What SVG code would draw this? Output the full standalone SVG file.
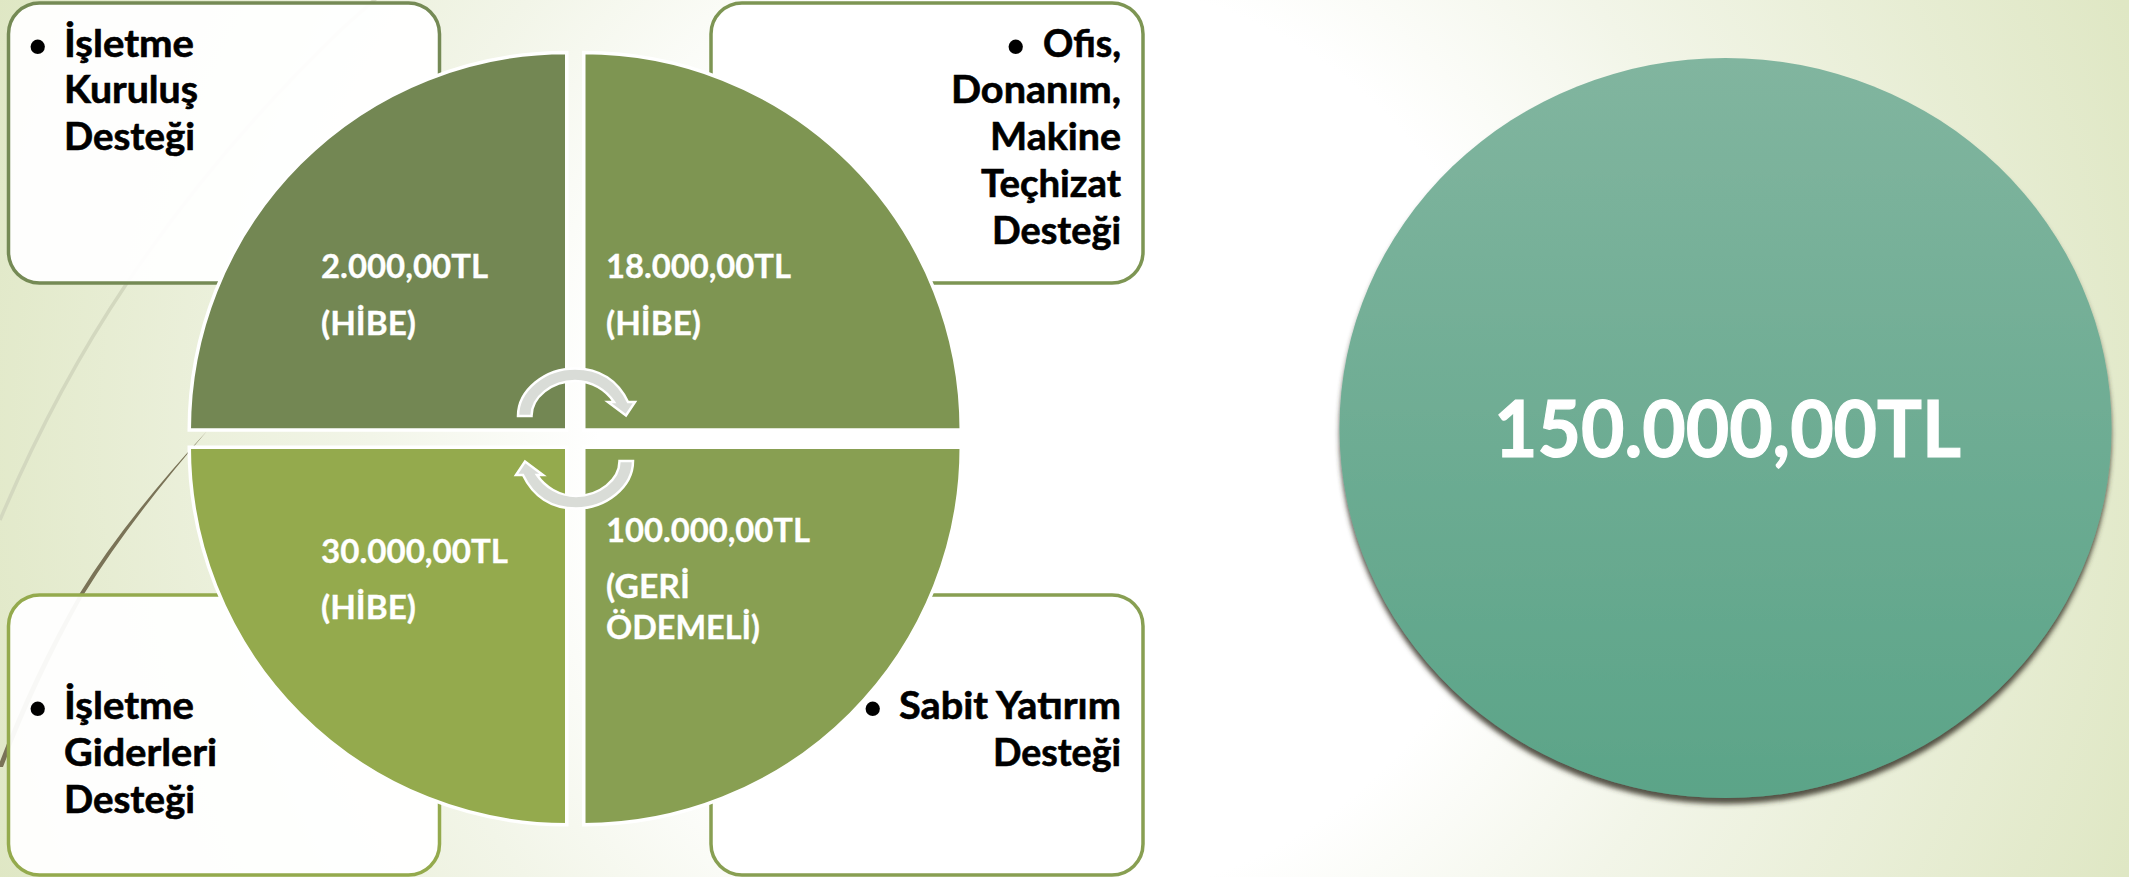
<svg xmlns="http://www.w3.org/2000/svg" width="2129" height="877" viewBox="0 0 2129 877">
<style>
.b{font-family:Lato,"Liberation Sans",sans-serif;font-weight:700;font-size:38px;fill:#000;stroke:#000;stroke-width:.6}
.u{font-family:"Liberation Sans",sans-serif;font-weight:700;font-size:50px;fill:#000}
.w{font-family:Lato,"Liberation Sans",sans-serif;font-weight:700;font-size:32px;fill:#fff;stroke:#fff;stroke-width:.3}
.box{fill:#fff;fill-opacity:.95;stroke-width:3.5}
.sec{stroke:#fff;stroke-width:3.5}
.arr{fill:#d9dcd7;stroke:#fff;stroke-width:2.5;stroke-linejoin:miter}
</style>
<defs>
<radialGradient id="bg" gradientUnits="userSpaceOnUse" cx="1060" cy="440" r="1150">
<stop offset="0" stop-color="#fff"/><stop offset=".4" stop-color="#fff"/><stop offset=".6" stop-color="#f2f5e8"/><stop offset="1" stop-color="#dfe7c4"/>
</radialGradient>
<linearGradient id="disc" x1="0" y1="0" x2="0" y2="1"><stop offset="0" stop-color="#81b59f"/><stop offset="1" stop-color="#5ba488"/></linearGradient>
<filter id="sh" x="-5%" y="-5%" width="110%" height="112%"><feDropShadow dx="0" dy="6" stdDeviation="2.5" flood-color="#3a352c" flood-opacity=".85"/></filter>
</defs>
<g id="background">
<rect width="2129" height="877" fill="url(#bg)"/>
<path d="M0,520Q55,390 127,283Q220,145 344,27L380,-5" fill="none" stroke="#d3d8bf" stroke-width="3.5"/>
<path d="M207,431Q125,520 80,593Q30,680 -2,767L3,767Q35,682 84,594Q130,520 207,431Z" fill="#7a7357"/>
</g>
<g id="box-kurulus">
<rect class="box" x="8.5" y="3" width="431" height="280" rx="31" stroke="#758a55"/>
<text class="u" x="29" y="63">•</text>
<text class="b" x="64" y="57" textLength="130" lengthAdjust="spacingAndGlyphs">İşletme</text>
<text class="b" x="64" y="103" textLength="134" lengthAdjust="spacingAndGlyphs">Kuruluş</text>
<text class="b" x="64" y="150" textLength="131" lengthAdjust="spacingAndGlyphs">Desteği</text>
</g>
<g id="box-ofis">
<rect class="box" x="711" y="3" width="432" height="280" rx="31" stroke="#7d9553"/>
<text class="u" x="1007" y="63">•</text>
<text class="b" x="1043" y="57" textLength="78" lengthAdjust="spacingAndGlyphs">Ofis,</text>
<text class="b" x="951" y="103" textLength="170" lengthAdjust="spacingAndGlyphs">Donanım,</text>
<text class="b" x="990" y="150" textLength="131" lengthAdjust="spacingAndGlyphs">Makine</text>
<text class="b" x="981" y="197" textLength="140" lengthAdjust="spacingAndGlyphs">Teçhizat</text>
<text class="b" x="992" y="244" textLength="129" lengthAdjust="spacingAndGlyphs">Desteği</text>
</g>
<g id="box-giderler">
<rect class="box" x="8.5" y="595" width="431" height="280" rx="31" stroke="#94aa4d"/>
<text class="u" x="29" y="725">•</text>
<text class="b" x="64" y="719" textLength="130" lengthAdjust="spacingAndGlyphs">İşletme</text>
<text class="b" x="64" y="766" textLength="153" lengthAdjust="spacingAndGlyphs">Giderleri</text>
<text class="b" x="64" y="813" textLength="131" lengthAdjust="spacingAndGlyphs">Desteği</text>
</g>
<g id="box-sabit">
<rect class="box" x="711" y="595" width="432" height="280" rx="31" stroke="#889f52"/>
<text class="u" x="864" y="725">•</text>
<text class="b" x="899" y="719" textLength="222" lengthAdjust="spacingAndGlyphs">Sabit Yatırım</text>
<text class="b" x="993" y="766" textLength="128" lengthAdjust="spacingAndGlyphs">Desteği</text>
</g>
<g id="sector-kurulus">
<path class="sec" d="M566.75,430H189.25A377.5,377.5 0 0 1 566.75,52.5Z" fill="#738753"/>
<text class="w" x="321" y="278" textLength="167" lengthAdjust="spacingAndGlyphs">2.000,00TL</text>
<text class="w" x="321" y="335" textLength="95" lengthAdjust="spacingAndGlyphs">(HİBE)</text>
</g>
<g id="sector-ofis">
<path class="sec" d="M583.75,430V52.5A377.5,377.5 0 0 1 961.25,430Z" fill="#7e9552"/>
<text class="w" x="606" y="278" textLength="185" lengthAdjust="spacingAndGlyphs">18.000,00TL</text>
<text class="w" x="606" y="335" textLength="95" lengthAdjust="spacingAndGlyphs">(HİBE)</text>
</g>
<g id="sector-giderler">
<path class="sec" d="M566.75,447.25V824.75A377.5,377.5 0 0 1 189.25,447.25Z" fill="#94aa4d"/>
<text class="w" x="321" y="563" textLength="187" lengthAdjust="spacingAndGlyphs">30.000,00TL</text>
<text class="w" x="321" y="619" textLength="95" lengthAdjust="spacingAndGlyphs">(HİBE)</text>
</g>
<g id="sector-sabit">
<path class="sec" d="M583.75,447.25H961.25A377.5,377.5 0 0 1 583.75,824.75Z" fill="#889f52"/>
<text class="w" x="606" y="542" textLength="204" lengthAdjust="spacingAndGlyphs">100.000,00TL</text>
<text class="w" x="606" y="598" textLength="84" lengthAdjust="spacingAndGlyphs">(GERİ</text>
<text class="w" x="606" y="639" textLength="154" lengthAdjust="spacingAndGlyphs">ÖDEMELİ)</text>
</g>
<g id="connectors">
<path id="arrow-top" class="arr" d="M518,416C518,390 545,368.5 575,368.5C600,368.5 618,381 628,402L635,402L626,415.5L608,402L614,402C606,390 592,381 575,381C552,381 531.5,397 531.5,416Z"/>
<path id="arrow-bottom" class="arr" transform="rotate(180 575.5 438.5)" d="M518,416C518,390 545,368.5 575,368.5C600,368.5 618,381 628,402L635,402L626,415.5L608,402L614,402C606,390 592,381 575,381C552,381 531.5,397 531.5,416Z"/>
</g>
<g id="total">
<ellipse cx="1725.5" cy="428" rx="386" ry="370" fill="url(#disc)" filter="url(#sh)"/>
<text x="1494" y="457" textLength="467" lengthAdjust="spacingAndGlyphs" font-family="Lato,'Liberation Sans',sans-serif" font-weight="700" font-size="78" fill="#fff" stroke="#fff" stroke-width="1.2">150.000,00TL</text>
</g>
</svg>
